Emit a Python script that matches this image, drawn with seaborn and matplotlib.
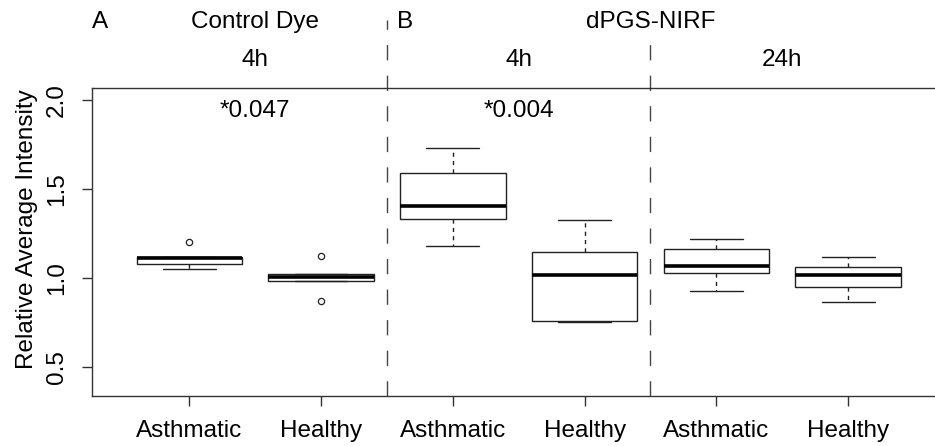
import matplotlib
matplotlib.use("Agg")
import matplotlib.pyplot as plt
import seaborn as sns
import pandas as pd

# ---- data ----
groups = ["CD4_Asthmatic", "CD4_Healthy", "NP4_Asthmatic", "NP4_Healthy",
          "NP24_Asthmatic", "NP24_Healthy"]
tick_labels = ["Asthmatic", "Healthy", "Asthmatic", "Healthy", "Asthmatic", "Healthy"]

cd4_asthmatic = [1.051, 1.077, 1.113, 1.118, 1.201]
cd4_healthy = [0.869, 0.983, 1.002, 1.021, 1.120]
np4_asthmatic = [1.176, 1.330, 1.404, 1.586, 1.728]
np4_healthy = [0.751, 0.756, 1.013, 1.145, 1.325]
np24_asthmatic = [0.923, 1.028, 1.066, 1.161, 1.220]
np24_healthy = [0.865, 0.949, 1.013, 1.058, 1.116]

panel_labels = ["A", "B"]
dye_titles = ["Control Dye", "dPGS-NIRF"]
time_titles = ["4h", "4h", "24h"]
p_values = ["*0.047", "*0.004"]
y_ticks = [0.5, 1.0, 1.5, 2.0]
y_label = "Relative Average Intensity"

series = [cd4_asthmatic, cd4_healthy, np4_asthmatic, np4_healthy,
          np24_asthmatic, np24_healthy]
df = pd.DataFrame({
    "group": [g for g, vals in zip(groups, series) for _ in vals],
    "value": [v for vals in series for v in vals],
})

sns.set_theme(style="white")
plt.rcParams["font.family"] = ["Liberation Sans", "DejaVu Sans"]
plt.rcParams["text.color"] = "black"
plt.rcParams["axes.labelcolor"] = "black"

fig = plt.figure(figsize=(9.35, 4.46), dpi=100)
ax = fig.add_axes([91.7 / 935, 1 - 396 / 446, 854 / 935, (396 - 88.3) / 446])

edge = "#222222"
sns.boxplot(data=df, x="group", y="value", order=groups, ax=ax,
            color="white", linecolor=edge, linewidth=1.0, width=0.8,
            whis=1.5, saturation=1,
            whiskerprops={"linestyle": (0, (3, 3))},
            medianprops={"linewidth": 2.6, "color": "black"},
            flierprops={"marker": "o", "markersize": 4.5,
                        "markerfacecolor": "none", "markeredgecolor": edge,
                        "markeredgewidth": 0.9})

ax.set_xlim(-0.74, 5.74)
ax.set_ylim(0.336, 2.064)
ax.set_yticks(y_ticks)
ax.set_yticklabels([f"{t:.1f}" for t in y_ticks], rotation=90, va="center")
ax.set_xticks(range(len(groups)))
ax.set_xticklabels(tick_labels)
ax.set_xlabel("")
ax.set_ylabel(y_label, fontsize=17.5)
ax.yaxis.set_label_coords(-0.063, 0.543)

ax.tick_params(axis="both", direction="out", length=7.2, width=1.0,
               color="#333333", labelsize=17.5, labelcolor="black")
ax.tick_params(axis="x", pad=10, bottom=True)
ax.tick_params(axis="y", pad=10, left=True)

for side in ["left", "top", "bottom", "right"]:
    ax.spines[side].set_visible(True)
    ax.spines[side].set_color("#333333")
    ax.spines[side].set_linewidth(1.0)

# separators between panels
ax.plot([1.5, 1.5], [0.336, 2.45], color="#444444", lw=1.0,
        linestyle=(0, (11, 11)), clip_on=False)
ax.plot([3.5, 3.5], [0.336, 2.31], color="#444444", lw=1.0,
        linestyle=(0, (11, 11)), clip_on=False)

# headings
fs = 17.5
ax.text(-0.735, 2.434, panel_labels[0], ha="left", va="center", fontsize=fs)
ax.text(1.58, 2.434, panel_labels[1], ha="left", va="center", fontsize=fs)
ax.text(0.5, 2.434, dye_titles[0], ha="center", va="center", fontsize=fs)
ax.text(3.5, 2.434, dye_titles[1], ha="center", va="center", fontsize=fs)
for xc, t in zip([0.5, 2.5, 4.5], time_titles):
    ax.text(xc, 2.225, t, ha="center", va="center", fontsize=fs)
for xc, t in zip([0.5, 2.5], p_values):
    ax.text(xc, 1.934, t, ha="center", va="center", fontsize=fs)

fig.savefig("out.png", dpi=100)
